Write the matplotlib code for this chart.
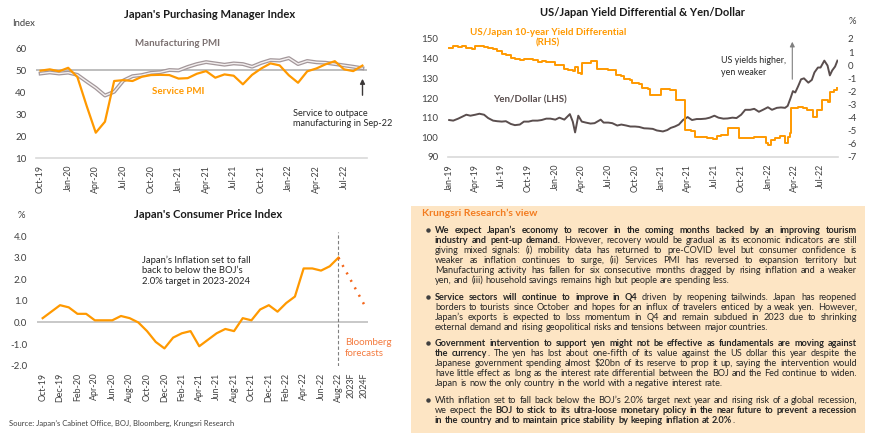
import numpy as np
import pandas as pd
import matplotlib
matplotlib.use('Agg')
import matplotlib.pyplot as plt
import matplotlib.dates as mdates
from matplotlib.font_manager import FontProperties
from matplotlib.patches import Rectangle

plt.rcParams['font.family'] = ['Lato', 'DejaVu Sans']
plt.rcParams['axes.unicode_minus'] = False

# --- DATA ---
# Japan PMI, Oct-19 .. Sep-22
pmi_labels = list(pd.date_range('2019-10-01', periods=36, freq='MS').strftime('%b-%y'))
services = [49.7, 50.3, 49.4, 51.0, 46.8, 33.8, 21.5, 26.5, 45.0, 45.4, 45.0, 46.9,
            47.7, 47.8, 47.7, 46.1, 46.3, 48.3, 49.5, 46.5, 48.0, 47.4, 43.5, 47.8,
            50.7, 53.0, 52.1, 47.6, 44.2, 49.4, 50.7, 52.6, 54.0, 50.3, 49.5, 52.0]
manufacturing = [48.4, 48.9, 48.4, 48.8, 47.8, 44.8, 41.9, 38.4, 40.1, 45.2, 47.2, 47.7,
                 48.7, 49.0, 50.0, 49.8, 51.4, 52.7, 53.6, 53.0, 52.4, 53.0, 52.7, 51.5,
                 53.2, 54.5, 54.3, 55.4, 52.7, 54.1, 53.5, 53.3, 52.7, 52.1, 51.5, 50.8]

# Yen/Dollar (LHS)
yen_dates = ['2019-01-01', '2019-01-15', '2019-02-01', '2019-02-15', '2019-03-01', '2019-03-15',
             '2019-04-01', '2019-04-15', '2019-05-01', '2019-05-15', '2019-06-01', '2019-06-15',
             '2019-07-01', '2019-07-15', '2019-08-01', '2019-08-15', '2019-09-01', '2019-09-15',
             '2019-10-01', '2019-10-15', '2019-11-01', '2019-11-15', '2019-12-01', '2019-12-15',
             '2020-01-01', '2020-01-15', '2020-02-01', '2020-02-20', '2020-03-01', '2020-03-09',
             '2020-03-20', '2020-04-01', '2020-04-15', '2020-05-01', '2020-05-15', '2020-06-05',
             '2020-06-15', '2020-07-01', '2020-07-15', '2020-08-01', '2020-08-15', '2020-09-01',
             '2020-09-15', '2020-10-01', '2020-10-15', '2020-11-01', '2020-11-15', '2020-12-01',
             '2020-12-15', '2021-01-05', '2021-01-20', '2021-02-01', '2021-02-15', '2021-03-01',
             '2021-03-15', '2021-03-31', '2021-04-15', '2021-05-01', '2021-05-15', '2021-06-01',
             '2021-06-15', '2021-07-01', '2021-07-15', '2021-08-01', '2021-08-15', '2021-09-01',
             '2021-09-15', '2021-10-01', '2021-10-15', '2021-11-01', '2021-11-15', '2021-12-01',
             '2021-12-15', '2022-01-01', '2022-01-15', '2022-02-01', '2022-02-15', '2022-03-01',
             '2022-03-10', '2022-03-20', '2022-03-28', '2022-04-05', '2022-04-15', '2022-04-25',
             '2022-05-05', '2022-05-20', '2022-06-01', '2022-06-10', '2022-06-22', '2022-07-01',
             '2022-07-14', '2022-07-25', '2022-08-02', '2022-08-10', '2022-08-20', '2022-08-28']
yen_vals = [108.8, 108.5, 109.5, 110.5, 111.5, 111.0, 111.5, 112.0, 111.5, 109.8, 108.5, 108.2,
            108.0, 108.2, 106.8, 106.2, 106.5, 108.0, 108.0, 108.5, 108.5, 108.8, 109.5, 109.5,
            109.0, 110.0, 109.0, 111.8, 108.0, 102.5, 111.0, 108.0, 107.5, 107.0, 107.2, 109.0,
            107.5, 107.5, 107.2, 106.0, 106.5, 106.0, 105.5, 105.5, 105.3, 104.6, 104.5, 104.3,
            103.5, 103.0, 103.7, 104.8, 105.5, 106.5, 108.8, 110.3, 108.8, 109.3, 109.3, 109.5,
            110.0, 111.0, 110.0, 109.5, 109.6, 110.0, 109.8, 111.5, 114.0, 114.0, 114.5, 113.0,
            114.0, 115.3, 114.0, 115.0, 115.2, 115.0, 116.0, 120.0, 123.5, 122.8, 126.0, 129.5,
            130.0, 127.8, 129.2, 133.0, 135.5, 135.5, 139.0, 136.5, 131.5, 134.0, 136.0, 139.0]

# US/Japan 10-year yield differential (RHS, %)
yd_dates = ['2019-01-01', '2019-01-15', '2019-02-01', '2019-02-15', '2019-03-01', '2019-03-20',
            '2019-04-01', '2019-04-15', '2019-05-01', '2019-05-15', '2019-06-01', '2019-06-15',
            '2019-07-01', '2019-07-15', '2019-08-01', '2019-08-15', '2019-09-01', '2019-09-15',
            '2019-10-01', '2019-10-15', '2019-11-01', '2019-11-15', '2019-12-01', '2019-12-15',
            '2020-01-01', '2020-01-15', '2020-02-01', '2020-02-15', '2020-03-01', '2020-03-08',
            '2020-03-18', '2020-03-28', '2020-04-03', '2020-04-15', '2020-05-01', '2020-05-15',
            '2020-05-25', '2020-06-15', '2020-07-01', '2020-07-15', '2020-07-28', '2020-08-15',
            '2020-08-25', '2020-09-15', '2020-09-22', '2020-10-15', '2020-10-25', '2020-11-15',
            '2020-11-22', '2020-12-20', '2020-12-28', '2021-01-15', '2021-01-31', '2021-02-18',
            '2021-02-20', '2021-03-15', '2021-03-22', '2021-04-10', '2021-04-25', '2021-05-15',
            '2021-06-05', '2021-06-25', '2021-07-10', '2021-07-25', '2021-08-15', '2021-08-18',
            '2021-09-10', '2021-09-20', '2021-09-22', '2021-10-15', '2021-11-01', '2021-11-15',
            '2021-12-01', '2021-12-15', '2021-12-25', '2022-01-03', '2022-01-10', '2022-01-25',
            '2022-02-10', '2022-03-01', '2022-03-10', '2022-03-18', '2022-03-22', '2022-04-15',
            '2022-05-01', '2022-05-15', '2022-06-05', '2022-06-20', '2022-07-05', '2022-07-25',
            '2022-08-01', '2022-08-15', '2022-08-28']
yd_vals = [1.30, 1.45, 1.40, 1.45, 1.35, 1.20, 1.45, 1.50, 1.40, 1.35, 1.20, 1.10,
           0.85, 0.80, 0.55, 0.45, 0.40, 0.45, 0.45, 0.40, 0.25, 0.30, 0.25, 0.25,
           0.05, 0.00, -0.25, -0.35, -0.45, -0.10, -0.60, -0.70, 0.15, 0.20, 0.30, 0.30,
           -0.25, -0.30, -0.37, -0.40, -0.75, -0.80, -1.08, -1.10, -1.38, -1.40, -1.76, -1.80,
           -2.27, -2.30, -1.84, -1.85, -1.90, -1.92, -2.66, -2.68, -4.95, -5.00, -5.46, -5.50,
           -5.58, -5.60, -5.40, -5.35, -5.30, -4.77, -4.80, -4.80, -5.58, -5.55, -5.55, -5.50,
           -5.50, -5.45, -5.96, -6.05, -5.70, -5.55, -5.40, -5.90, -5.50, -5.20, -3.30, -3.16,
           -3.30, -3.42, -3.98, -3.42, -2.66, -2.80, -2.03, -1.90, -1.70]

# Japan CPI (%), Oct-19 .. Aug-22, plus Bloomberg forecasts
cpi_labels = list(pd.date_range('2019-10-01', periods=35, freq='MS').strftime('%b-%y'))
cpi = [0.2, 0.5, 0.8, 0.7, 0.4, 0.4, 0.1, 0.1, 0.1, 0.3, 0.2, 0.0, -0.4, -0.9, -1.2,
       -0.7, -0.5, -0.4, -1.1, -0.8, -0.5, -0.3, -0.4, 0.2, 0.1, 0.6, 0.8,
       0.5, 0.9, 1.2, 2.5, 2.5, 2.4, 2.6, 3.0]
fc_labels = ['2023F', '2024F']
fc_vals = [1.9, 0.8]

# Krungsri Research's view ('*' toggles bold)
bullets = [
    ["*We expect Japan’s economy to recover in the coming months backed by an improving tourism*",
     "*industry and pent-up demand.* However, recovery would be gradual as its economic indicators are still",
     "giving mixed signals: (i) mobility data has returned to pre-COVID level but consumer confidence is",
     "weaker as inflation continues to surge, (ii) Services PMI has reversed to expansion territory but",
     "Manufacturing activity has fallen for six consecutive months dragged by rising inflation and a weaker",
     "yen, and (iii) household savings remains high but people are spending less."],
    ["*Service sectors will continue to improve in Q4* driven by reopening tailwinds. Japan has reopened",
     "borders to tourists since October and hopes for an influx of travelers enticed by a weak yen. However,",
     "Japan’s exports is expected to loss momentum in Q4 and remain subdued in 2023 due to shrinking",
     "external demand and rising geopolitical risks and tensions between major countries."],
    ["*Government intervention to support yen might not be effective as fundamentals are moving against*",
     "*the currency*. The yen has lost about one-fifth of its value against the US dollar this year despite the",
     "Japanese government spending almost $20bn of its reserve to prop it up, saying the intervention would",
     "have little effect as long as the interest rate differential between the BOJ and the Fed continue to widen.",
     "Japan is now the only country in the world with a negative interest rate."],
    ["With inflation set to fall back below the BOJ’s 2.0% target next year and rising risk of a global recession,",
     "we expect the *BOJ to stick to its ultra-loose monetary policy in the near future to prevent a recession*",
     "*in the country and to maintain price stability by keeping inflation at 2.0%*."],
]

# --- STYLE ---
W, H = 870, 441
ORANGE = '#ff9900'
FC_ORANGE = '#f4661b'
YEN_GREY = '#5a4e4e'
TXT = '#262626'
TICK = '#404040'

fig = plt.figure(figsize=(W / 100, H / 100), dpi=100)

# pixel-space overlay for free text and the view box
bg = fig.add_axes([0, 0, 1, 1], zorder=-1)
bg.set_xlim(0, W)
bg.set_ylim(H, 0)
bg.axis('off')


def add_px_axes(left, top, right, bottom):
    ax = fig.add_axes([left / W, 1 - bottom / H, (right - left) / W, (bottom - top) / H])
    ax.patch.set_visible(False)
    for s in ax.spines.values():
        s.set_visible(False)
    ax.tick_params(length=0, colors=TICK, labelsize=7)
    return ax


# --- PMI ---
ax1 = add_px_axes(36, 48, 367, 158)
x1 = np.arange(len(services))
ax1.axhline(50, color='#b3b3b3', lw=1.2, zorder=1)
ax1.plot(x1, manufacturing, color='#a3979a', lw=2.8, zorder=2)
ax1.plot(x1, manufacturing, color='#f4f0f0', lw=1.0, zorder=3)
ax1.plot(x1, services, color=ORANGE, lw=1.6, zorder=4)
ax1.set_xlim(-0.5, len(services) - 0.5)
ax1.set_ylim(10, 60)
ax1.set_yticks(range(10, 61, 10))
ax1.set_xticks(x1[::3])
ax1.set_xticklabels(pmi_labels[::3], rotation=90, fontsize=6.4)
ax1.spines['bottom'].set_visible(True)
ax1.spines['bottom'].set_color('#d9d9d9')
ax1.spines['bottom'].set_linewidth(1.2)
ax1.tick_params(axis='y', pad=7)
ax1.tick_params(axis='x', pad=5)

bg.text(210, 14, "Japan's Purchasing Manager Index", fontsize=8, fontweight='bold',
        ha='center', va='center', color='#1a1a1a')
bg.text(24, 23, 'Index', fontsize=6.8, ha='center', va='center', color=TICK)
bg.text(178, 44, 'Manufacturing PMI', fontsize=7, fontweight='bold', color='#7b7070',
        ha='center', va='center')
bg.text(178, 92, 'Service PMI', fontsize=7, fontweight='bold', color=ORANGE,
        ha='center', va='center')
bg.annotate('', xy=(362.5, 76), xytext=(362.5, 98),
            arrowprops=dict(arrowstyle='-|>', color='#3b3838', lw=1, mutation_scale=7))
bg.text(293, 108.5, 'Service to outpace\nmanufacturing in Sep-22', fontsize=6.6,
        ha='left', va='top', color=TXT, linespacing=1.25)

# --- Yen / yield differential ---
ax2 = add_px_axes(448, 39, 838, 157)
ax2.plot(pd.to_datetime(yen_dates), yen_vals, color=YEN_GREY, lw=1.4)
ax2.set_ylim(90, 150)
ax2.set_yticks(range(90, 151, 10))
ax2.set_xlim(pd.Timestamp('2018-12-28'), pd.Timestamp('2022-08-30'))
ax2.xaxis.set_major_locator(mdates.MonthLocator(bymonth=[1, 4, 7, 10]))
ax2.xaxis.set_major_formatter(mdates.DateFormatter('%b-%y'))
plt.setp(ax2.get_xticklabels(), rotation=90, fontsize=6.4)
ax2.spines['bottom'].set_visible(True)
ax2.spines['bottom'].set_color('#d9d9d9')
ax2.spines['bottom'].set_linewidth(1.2)
ax2.tick_params(axis='y', pad=7)
ax2.tick_params(axis='x', pad=5)

ax2r = ax2.twinx()
ax2r.patch.set_visible(False)
for s in ax2r.spines.values():
    s.set_visible(False)
ax2r.plot(pd.to_datetime(yd_dates), yd_vals, color=ORANGE, lw=1.4, drawstyle='steps-post')
ax2r.set_ylim(-7, 2)
ax2r.set_yticks(range(-7, 3))
ax2r.tick_params(length=0, colors=TICK, labelsize=7, pad=7)

bg.text(642, 13, 'US/Japan Yield Differential & Yen/Dollar', fontsize=8, fontweight='bold',
        ha='center', va='center', color='#1a1a1a')
bg.text(852, 22, '%', fontsize=6.8, ha='center', va='center', color=TICK)
bg.text(548, 38, 'US/Japan 10-year Yield Differential\n(RHS)', fontsize=7, fontweight='bold',
        color=ORANGE, ha='center', va='center', linespacing=1.2)
bg.text(530, 100, 'Yen/Dollar (LHS)', fontsize=7, fontweight='bold', color=YEN_GREY,
        ha='center', va='center')
bg.annotate('', xy=(792.3, 39), xytext=(792.3, 82),
            arrowprops=dict(arrowstyle='-|>', color='#7f7f7f', lw=0.8, mutation_scale=7))
bg.text(721, 66.5, 'US yields higher,\nyen weaker', fontsize=6.4, ha='left', va='center',
        color=TXT, linespacing=1.3)

# --- CPI ---
ax3 = add_px_axes(37, 231.7, 368, 365.7)
x3 = np.arange(len(cpi))
fc_x = [x3[-1] + 1.5, x3[-1] + 3]
ax3.axhline(0, color='#bfbfbf', lw=1.2, zorder=1)
ax3.axvline(x3[-1], color='#7f7f7f', lw=0.8, ls=(0, (3, 2)), zorder=1)
ax3.plot(x3, cpi, color=ORANGE, lw=1.6, zorder=3)
ax3.plot([x3[-1]] + fc_x, [cpi[-1]] + fc_vals, color=FC_ORANGE, lw=1.8,
         ls=(0, (0.8, 2.6)), zorder=3)
ax3.set_xlim(-0.65, 37.4)
ax3.set_ylim(-2.0, 4.2)
ax3.set_yticks(np.arange(-2, 4.01, 1))
ax3.set_yticklabels([f'{v:.1f}' for v in np.arange(-2, 4.01, 1)])
ax3.set_xticks(list(x3[::2]) + fc_x)
ax3.set_xticklabels(cpi_labels[::2] + fc_labels, rotation=90, fontsize=6.4)
ax3.tick_params(axis='y', pad=7)
ax3.tick_params(axis='x', pad=5)

bg.text(208, 215, "Japan's Consumer Price Index", fontsize=8, fontweight='bold',
        ha='center', va='center', color='#1a1a1a')
bg.text(21, 216, '%', fontsize=6.8, ha='center', va='center', color=TICK)
bg.text(142, 270.5, 'Japan’s Inflation set to fall\nback to below the BOJ’s\n2.0% target in 2023-2024',
        fontsize=6.8, ha='left', va='center', color=TXT, linespacing=1.2)
bg.text(345, 348, 'Bloomberg\nforecasts', fontsize=7, ha='left', va='center',
        color='#f47b3f', linespacing=1.2)
bg.text(9, 423, 'Source: Japan’s Cabinet Office, BOJ, Bloomberg, Krungsri Research',
        fontsize=5.5, ha='left', va='center', color=TICK)

# --- Krungsri Research's view box ---
bg.add_patch(Rectangle((411, 206), 454, 227, facecolor='#fde5c4', edgecolor='none'))
bg.text(422, 213, 'Krungsri Research’s view', fontsize=7.5, fontweight='bold',
        color='#f37c20', ha='left', va='center')

renderer = fig.canvas.get_renderer()
X0, X1 = 435, 857


def text_width(s, size, bold):
    fp = FontProperties(family=['Lato'], size=size, weight='bold' if bold else 'normal')
    w, h, d = renderer.get_text_width_height_descent(s, fp, ismath=False)
    return w


def parse_words(line):
    words = []
    bold = False
    for raw in line.split(' '):
        pieces = []
        buf = ''
        for ch in raw:
            if ch == '*':
                if buf:
                    pieces.append((buf, bold))
                buf = ''
                bold = not bold
            else:
                buf += ch
        if buf:
            pieces.append((buf, bold))
        if pieces:
            words.append(pieces)
    return words


# pick a font size so the widest justified line still fits
size = 6.6
worst = 0
for para in bullets:
    for line in para[:-1]:
        words = parse_words(line)
        tot = sum(text_width(p, size, b) for w in words for p, b in w)
        sp = text_width('a a', size, False) - text_width('aa', size, False)
        worst = max(worst, tot + 0.3 * sp * (len(words) - 1))
if worst > X1 - X0:
    size *= (X1 - X0) / worst
space = text_width('a a', size, False) - text_width('aa', size, False)


def draw_line(line, y, justify):
    words = parse_words(line)
    widths = [[text_width(p, size, b) for p, b in w] for w in words]
    total = sum(sum(ws) for ws in widths)
    gap = (X1 - X0 - total) / (len(words) - 1) if justify and len(words) > 1 else space
    x = X0
    for w, ws in zip(words, widths):
        for (p, b), pw in zip(w, ws):
            bg.text(x, y + 2.8, p, fontsize=size, fontweight='bold' if b else 'normal',
                    color=TXT, ha='left', va='baseline', parse_math=False)
            x += pw
        x += gap


y = 230
for para in bullets:
    bg.plot([428], [y], marker='o', ms=2.2, color='#404040', ls='none')
    for i, line in enumerate(para):
        draw_line(line, y, justify=(i < len(para) - 1))
        y += 10
    y += 6.7

fig.savefig('out.png', dpi=100)
